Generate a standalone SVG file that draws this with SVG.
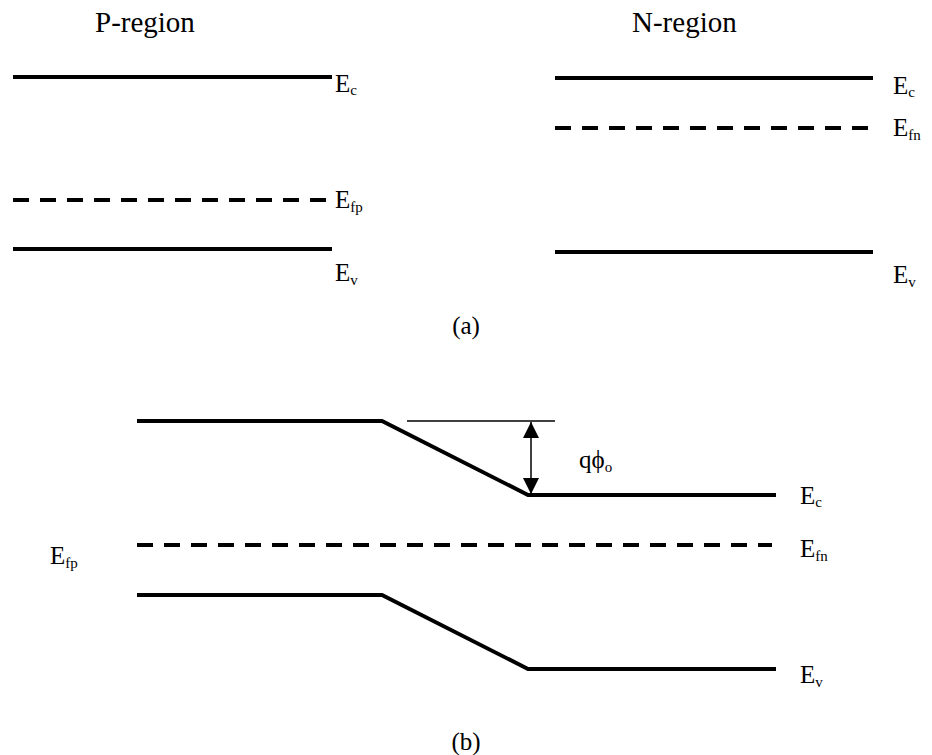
<svg xmlns="http://www.w3.org/2000/svg" width="932" height="755" viewBox="0 0 932 755">
<style>
.band{fill:none;stroke:#000;stroke-width:4;stroke-linejoin:miter}
.fermi{fill:none;stroke:#000;stroke-width:4;stroke-dasharray:16 11}
.thin{fill:none;stroke:#000;stroke-width:1.5}
.t{font-family:"Liberation Serif","Times New Roman",serif;fill:#000}
.title{font-size:29px}
.lbl{font-size:25px}
.sub{font-size:15px}
</style>
<defs>
<marker id="ah" viewBox="0 0 10 10" refX="10" refY="5" markerWidth="16" markerHeight="16" markerUnits="userSpaceOnUse" orient="auto-start-reverse">
<path d="M0,0 L10,5 L0,10 Z" fill="#000"/>
</marker>
</defs>
<rect width="932" height="755" fill="#fff"/>

<g id="p-region">
<text class="t title" x="95" y="32">P-region</text>
<line class="band" x1="13" y1="77" x2="332" y2="77"/>
<line class="fermi" x1="13" y1="200" x2="332" y2="200"/>
<line class="band" x1="13" y1="249" x2="332" y2="249"/>
<text class="t lbl" x="335" y="92">E<tspan class="sub" dy="3">c</tspan></text>
<text class="t lbl" x="335" y="208">E<tspan class="sub" dy="4">fp</tspan></text>
<text class="t lbl" x="335" y="281">E<tspan class="sub" dy="4">v</tspan></text>
</g>

<g id="n-region">
<text class="t title" x="632" y="32">N-region</text>
<line class="band" x1="555" y1="78" x2="873" y2="78"/>
<line class="fermi" x1="555" y1="128" x2="873" y2="128"/>
<line class="band" x1="555" y1="252" x2="873" y2="252"/>
<text class="t lbl" x="893" y="94">E<tspan class="sub" dy="3">c</tspan></text>
<text class="t lbl" x="893" y="136">E<tspan class="sub" dy="4">fn</tspan></text>
<text class="t lbl" x="893" y="283">E<tspan class="sub" dy="4">v</tspan></text>
</g>

<text class="t lbl" x="466" y="334" text-anchor="middle">(a)</text>

<g id="junction">
<polyline class="band" points="137,421 382,421 528,495 776,495"/>
<line class="fermi" x1="137" y1="545" x2="772" y2="545"/>
<polyline class="band" points="137,595 382,595 528,669 776,669"/>
<text class="t lbl" x="50" y="564">E<tspan class="sub" dy="4">fp</tspan></text>
<text class="t lbl" x="800" y="504">E<tspan class="sub" dy="3">c</tspan></text>
<text class="t lbl" x="800" y="557">E<tspan class="sub" dy="4">fn</tspan></text>
<text class="t lbl" x="800" y="683">E<tspan class="sub" dy="4">v</tspan></text>
<text class="t lbl" x="579" y="468">qϕ<tspan class="sub" dy="4">o</tspan></text>
</g>

<g id="connectors">
<line class="thin" x1="407" y1="421" x2="555" y2="421"/>
<line class="thin" x1="531" y1="422" x2="531" y2="494" marker-start="url(#ah)" marker-end="url(#ah)"/>
</g>

<text class="t lbl" x="466" y="750" text-anchor="middle">(b)</text>
</svg>
